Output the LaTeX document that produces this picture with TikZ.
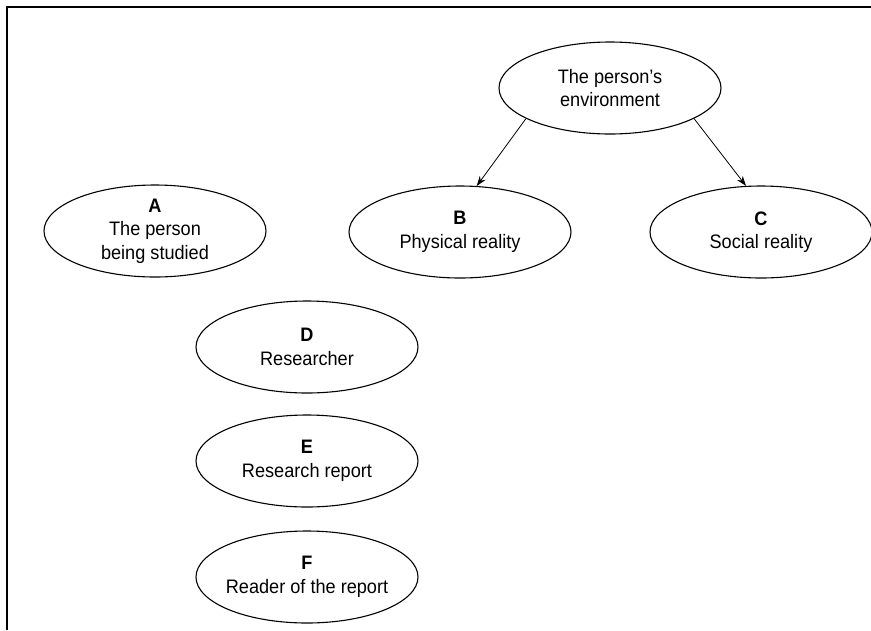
\documentclass[tikz,border=0pt]{standalone}
\usepackage{fontspec}
\setmainfont{Liberation Sans}[FakeStretch=0.93]
\usetikzlibrary{shapes.geometric,arrows.meta}
\begin{document}
\begin{tikzpicture}[x=1pt,y=-1pt,
  oval/.style={draw, ellipse, line width=1.1pt, minimum width=222pt,
    minimum height=92pt, inner sep=-15pt, align=center,
    font=\fontsize{19.5}{23.5}\selectfont},
  link/.style={-{Stealth[length=10pt,width=7pt]}, line width=0.8pt}]
% page size and frame
\useasboundingbox (0,0) rectangle (871,630);
\draw[line width=1.2pt] (871,7) -- (7,7) -- (7,630);

% ovals
\node[oval] (env) at (610,88) {The person's\\environment};
\node[oval] (A) at (155,231) {\textbf{A}\\The person\\being studied};
\node[oval] (B) at (460,232) {\textbf{B}\\Physical reality};
\node[oval] (C) at (761,232) {\textbf{C}\\Social reality};
\node[oval] (D) at (307,347) {\textbf{D}\\Researcher};
\node[oval] (E) at (307,461) {\textbf{E}\\Research report};
\node[oval] (F) at (307,577) {\textbf{F}\\Reader of the report};

% environment splits into physical and social reality
\draw[link] (env.200) -- (B.70);
\draw[link] (env.340) -- (C.108);
\end{tikzpicture}
\end{document}
